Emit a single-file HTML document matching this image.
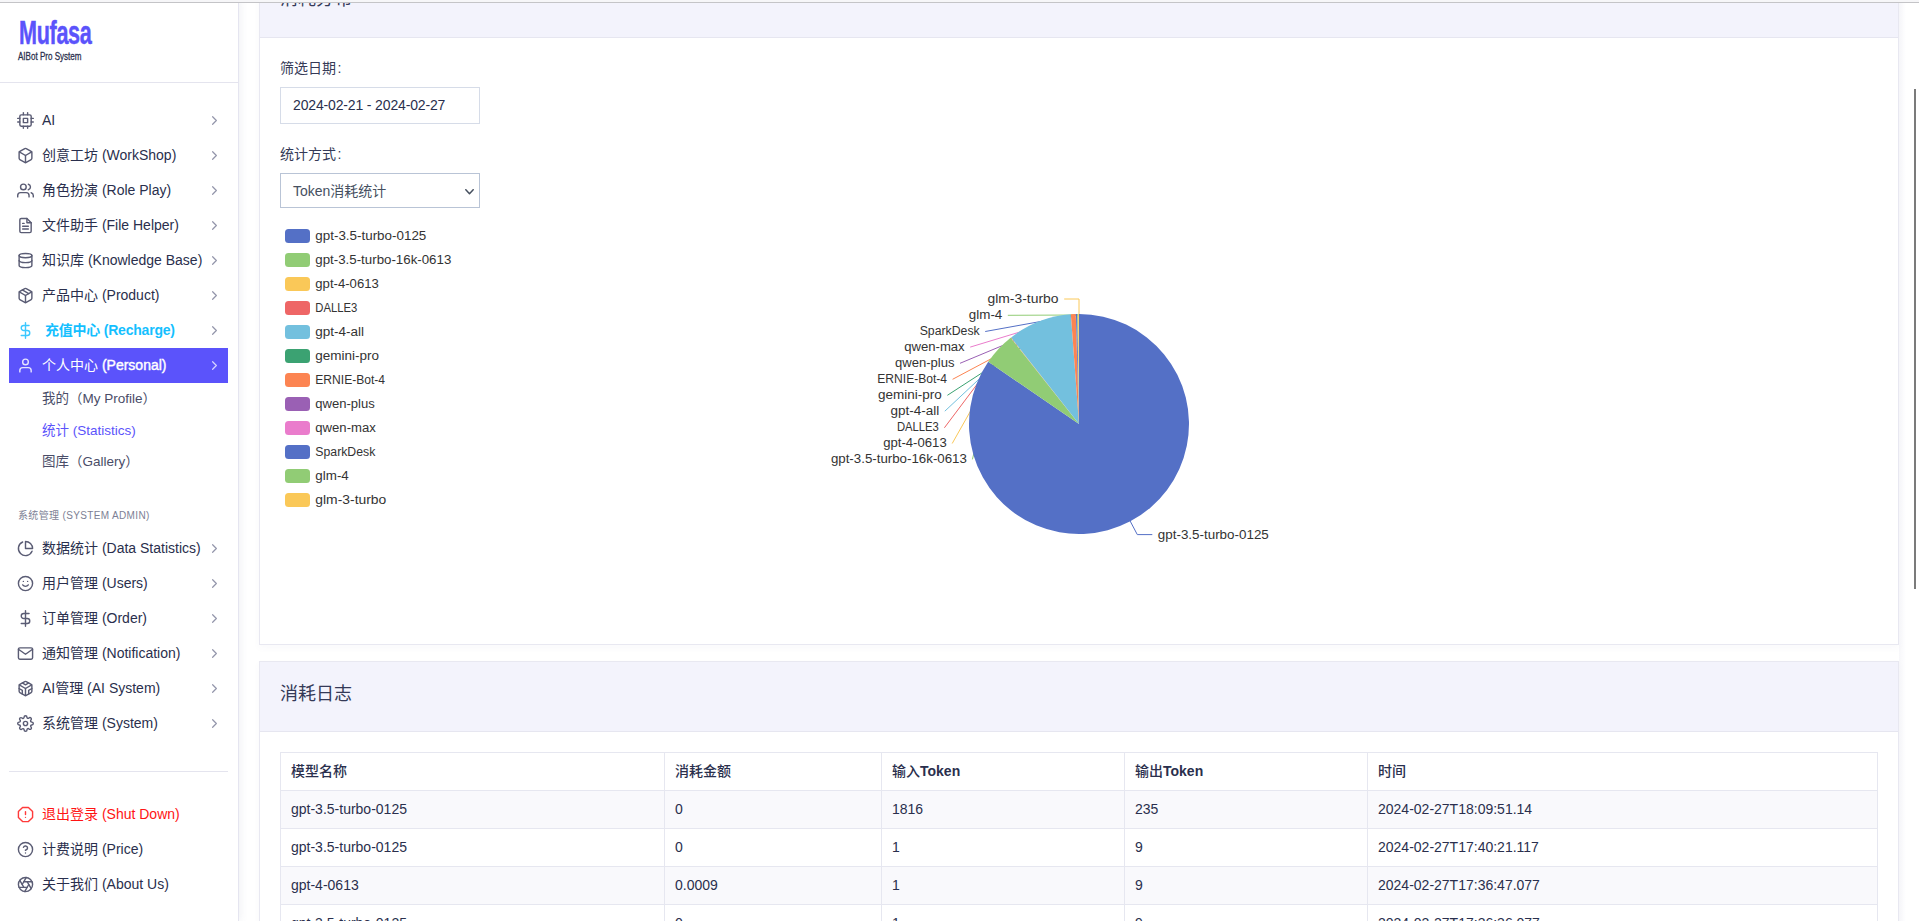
<!DOCTYPE html>
<html lang="zh-CN">
<head>
<meta charset="utf-8">
<title>Mufasa - Statistics</title>
<style>
*{box-sizing:border-box}
html,body{margin:0;padding:0}
body{width:1919px;height:921px;overflow:hidden;position:relative;background:#fff;
  font-family:"Liberation Sans","Noto Sans CJK SC",sans-serif;color:#2a2f4d;font-size:15px}
.topline{position:absolute;left:0;top:0;width:1919px;height:3px;background:#f6f6f8;border-bottom:1px solid #c4c4c7;z-index:50}
/* ---------- sidebar ---------- */
.sidebar{position:absolute;left:0;top:0;width:239px;height:921px;background:#fff;border-right:1px solid #e5e5f0;box-shadow:1px 0 8px rgba(90,95,140,.1);z-index:10}
.brand{position:absolute;left:0;top:0;width:238px;height:83px;border-bottom:1px solid #e4e4ee}
.brand .t1{position:absolute;left:19px;top:13px;font-size:33px;line-height:40px;font-weight:bold;color:#5b53fb;
  transform:scaleX(.655);transform-origin:0 50%;white-space:nowrap;letter-spacing:-.5px;-webkit-text-stroke:.45px #5b53fb}
.brand .t2{position:absolute;left:18px;top:49px;font-size:11.5px;line-height:14px;color:#2a2f4d;
  transform:scaleX(.70);transform-origin:0 50%;white-space:nowrap;-webkit-text-stroke:.3px #2a2f4d}
.menu{position:absolute;left:9px;width:219px;margin:0;padding:0;list-style:none}
.mi{position:relative;height:35px;line-height:35px;white-space:nowrap;font-size:14px;color:#2a2f4d}
.mi svg.ic{position:absolute;left:8px;top:9px;width:17px;height:17px;stroke:#5a5c74;fill:none;stroke-width:2;stroke-linecap:round;stroke-linejoin:round}
.mi .tx{position:absolute;left:33px;top:0}
.mi svg.ch{position:absolute;left:198px;top:9.75px;width:15px;height:15px;stroke:#9395aa;fill:none;stroke-width:1.9;stroke-linecap:round;stroke-linejoin:round}
.mi.active{background:#5b53fb;color:#fff}
.mi.active .md{-webkit-text-stroke:.4px #fff}
.mi.active svg.ic{stroke:#e4e2ff}
.mi.active svg.ch{stroke:#d6d4ff}
.mi.recharge{color:#14bfff;font-weight:bold}
.mi.recharge svg.ic{stroke:#3cc8ff}
.mi.recharge .tx{left:36px;letter-spacing:-.22px}
.mi.red{color:#ff1414}
.mi.red svg.ic{stroke:#ff3a3a}
.sub{position:absolute;left:42px;font-size:13.5px;line-height:20px;white-space:nowrap;color:#4a4d68}
.sub.on{color:#5b53fb}
.seclabel{position:absolute;left:18px;top:509px;font-size:10px;line-height:14px;color:#7d7f95;letter-spacing:.35px;white-space:nowrap}
.sdiv{position:absolute;left:9px;top:771px;width:219px;height:1px;background:#e4e4ee}
/* ---------- main ---------- */
.card{position:absolute;left:259px;width:1640px;background:#fff;border:1px solid #e8e8f1;box-shadow:0 3px 7px rgba(90,95,140,.035)}
.chead{position:absolute;left:0;top:0;width:1638px;background:#f3f3fc;border-bottom:1px solid #e6e6f0}
.chead h3{position:absolute;left:20px;margin:0;font-weight:normal;font-size:18px;line-height:24px;color:#343957;white-space:nowrap}
.lab{position:absolute;left:280px;font-size:14px;line-height:20px;color:#353a57;white-space:nowrap}
.lab i{font-style:normal;margin-left:1.5px}
.inp{position:absolute;left:280px;top:87px;width:200px;height:37px;border:1px solid #d6dce8;background:#fff;
  font-size:14px;line-height:35px;padding-left:12px;color:#2a2f4d;white-space:nowrap;letter-spacing:-.15px}
.sel{position:absolute;left:280px;top:173px;width:200px;height:35px;border:1px solid #b9c4d6;background:#fff;
  font-size:14px;line-height:34px;padding-left:12px;color:#46505f;white-space:nowrap}
.sel svg{position:absolute;left:183px;top:11.5px;width:11px;height:11px;stroke:#46505f;fill:none;stroke-width:1.6;stroke-linecap:round;stroke-linejoin:round}
.tbl{position:absolute;left:280px;top:752px;width:1597px;border-collapse:collapse;table-layout:fixed;font-size:14px;color:#2a2f4d;z-index:6}
.tbl th,.tbl td{height:38px;padding:0 0 2px 10px;border:1px solid #e6e7f0;text-align:left;font-weight:normal;white-space:nowrap;line-height:20px;vertical-align:middle}
.tbl th{font-weight:500;background:#fff}
.tbl th b{font-weight:bold}
.tbl tr.odd td{background:#f9f9fc}
.tbl tr.even td{background:#fff}
.rshade{position:absolute;left:1899px;top:3px;width:7px;height:918px;background:linear-gradient(90deg,rgba(240,240,246,.55),rgba(255,255,255,0));z-index:1}
.scroll{position:absolute;left:1914px;top:89px;width:2px;height:500px;background:#7b7b7b;z-index:60}
</style>
</head>
<body>
<div class="topline"></div>

<!-- SIDEBAR -->
<div class="sidebar" id="sidebar">
  <div class="brand">
    <div class="t1">Mufasa</div>
    <div class="t2">AIBot Pro System</div>
  </div>
<!--SB-->
  <ul class="menu" style="top:103px">
    <li class="mi"><svg class="ic" viewBox="0 0 24 24"><rect x="4" y="4" width="16" height="16" rx="2" ry="2"/><rect x="9" y="9" width="6" height="6"/><line x1="9" y1="1" x2="9" y2="4"/><line x1="15" y1="1" x2="15" y2="4"/><line x1="9" y1="20" x2="9" y2="23"/><line x1="15" y1="20" x2="15" y2="23"/><line x1="20" y1="9" x2="23" y2="9"/><line x1="20" y1="14" x2="23" y2="14"/><line x1="1" y1="9" x2="4" y2="9"/><line x1="1" y1="14" x2="4" y2="14"/></svg><span class="tx">AI</span><svg class="ch" viewBox="0 0 24 24"><polyline points="9 18 15 12 9 6"/></svg></li>
    <li class="mi"><svg class="ic" viewBox="0 0 24 24"><path d="M21 16V8a2 2 0 0 0-1-1.73l-7-4a2 2 0 0 0-2 0l-7 4A2 2 0 0 0 3 8v8a2 2 0 0 0 1 1.73l7 4a2 2 0 0 0 2 0l7-4A2 2 0 0 0 21 16z"/><polyline points="3.27 6.96 12 12.01 20.73 6.96"/><line x1="12" y1="22.08" x2="12" y2="12"/></svg><span class="tx">创意工坊 (WorkShop)</span><svg class="ch" viewBox="0 0 24 24"><polyline points="9 18 15 12 9 6"/></svg></li>
    <li class="mi"><svg class="ic" viewBox="0 0 24 24"><path d="M17 21v-2a4 4 0 0 0-4-4H5a4 4 0 0 0-4 4v2"/><circle cx="9" cy="7" r="4"/><path d="M23 21v-2a4 4 0 0 0-3-3.87"/><path d="M16 3.13a4 4 0 0 1 0 7.75"/></svg><span class="tx">角色扮演 (Role Play)</span><svg class="ch" viewBox="0 0 24 24"><polyline points="9 18 15 12 9 6"/></svg></li>
    <li class="mi"><svg class="ic" viewBox="0 0 24 24"><path d="M14 2H6a2 2 0 0 0-2 2v16a2 2 0 0 0 2 2h12a2 2 0 0 0 2-2V8z"/><polyline points="14 2 14 8 20 8"/><line x1="16" y1="13" x2="8" y2="13"/><line x1="16" y1="17" x2="8" y2="17"/><polyline points="10 9 9 9 8 9"/></svg><span class="tx">文件助手 (File Helper)</span><svg class="ch" viewBox="0 0 24 24"><polyline points="9 18 15 12 9 6"/></svg></li>
    <li class="mi"><svg class="ic" viewBox="0 0 24 24"><ellipse cx="12" cy="5" rx="9" ry="3"/><path d="M21 12c0 1.66-4 3-9 3s-9-1.34-9-3"/><path d="M3 5v14c0 1.66 4 3 9 3s9-1.34 9-3V5"/></svg><span class="tx">知识库 (Knowledge Base)</span><svg class="ch" viewBox="0 0 24 24"><polyline points="9 18 15 12 9 6"/></svg></li>
    <li class="mi"><svg class="ic" viewBox="0 0 24 24"><line x1="16.5" y1="9.4" x2="7.5" y2="4.21"/><path d="M21 16V8a2 2 0 0 0-1-1.73l-7-4a2 2 0 0 0-2 0l-7 4A2 2 0 0 0 3 8v8a2 2 0 0 0 1 1.73l7 4a2 2 0 0 0 2 0l7-4A2 2 0 0 0 21 16z"/><polyline points="3.27 6.96 12 12.01 20.73 6.96"/><line x1="12" y1="22.08" x2="12" y2="12"/></svg><span class="tx">产品中心 (Product)</span><svg class="ch" viewBox="0 0 24 24"><polyline points="9 18 15 12 9 6"/></svg></li>
    <li class="mi recharge"><svg class="ic" viewBox="0 0 24 24"><line x1="12" y1="1" x2="12" y2="23"/><path d="M17 5H9.5a3.5 3.5 0 0 0 0 7h5a3.5 3.5 0 0 1 0 7H6"/></svg><span class="tx">充值中心 (Recharge)</span><svg class="ch" viewBox="0 0 24 24"><polyline points="9 18 15 12 9 6"/></svg></li>
    <li class="mi active"><svg class="ic" viewBox="0 0 24 24"><path d="M20 21v-2a4 4 0 0 0-4-4H8a4 4 0 0 0-4 4v2"/><circle cx="12" cy="7" r="4"/></svg><span class="tx">个人中心 <span class="md">(Personal)</span></span><svg class="ch" viewBox="0 0 24 24"><polyline points="9 18 15 12 9 6"/></svg></li>
  </ul>
  <div class="sub" style="top:389px">我的（My Profile）</div>
  <div class="sub on" style="top:421px">统计 (Statistics)</div>
  <div class="sub" style="top:452px">图库（Gallery）</div>
  <div class="seclabel">系统管理 (SYSTEM ADMIN)</div>
  <ul class="menu" style="top:531px">
    <li class="mi"><svg class="ic" viewBox="0 0 24 24"><path d="M21.21 15.89A10 10 0 1 1 8 2.83"/><path d="M22 12A10 10 0 0 0 12 2v10z"/></svg><span class="tx">数据统计 (Data Statistics)</span><svg class="ch" viewBox="0 0 24 24"><polyline points="9 18 15 12 9 6"/></svg></li>
    <li class="mi"><svg class="ic" viewBox="0 0 24 24"><circle cx="12" cy="12" r="10"/><path d="M8 14s1.5 2 4 2 4-2 4-2"/><line x1="9" y1="9" x2="9.01" y2="9"/><line x1="15" y1="9" x2="15.01" y2="9"/></svg><span class="tx">用户管理 (Users)</span><svg class="ch" viewBox="0 0 24 24"><polyline points="9 18 15 12 9 6"/></svg></li>
    <li class="mi"><svg class="ic" viewBox="0 0 24 24"><line x1="12" y1="1" x2="12" y2="23"/><path d="M17 5H9.5a3.5 3.5 0 0 0 0 7h5a3.5 3.5 0 0 1 0 7H6"/></svg><span class="tx">订单管理 (Order)</span><svg class="ch" viewBox="0 0 24 24"><polyline points="9 18 15 12 9 6"/></svg></li>
    <li class="mi"><svg class="ic" viewBox="0 0 24 24"><path d="M4 4h16c1.1 0 2 .9 2 2v12c0 1.1-.9 2-2 2H4c-1.1 0-2-.9-2-2V6c0-1.1.9-2 2-2z"/><polyline points="22,6 12,13 2,6"/></svg><span class="tx">通知管理 (Notification)</span><svg class="ch" viewBox="0 0 24 24"><polyline points="9 18 15 12 9 6"/></svg></li>
    <li class="mi"><svg class="ic" viewBox="0 0 24 24"><path d="M21 16V8a2 2 0 0 0-1-1.73l-7-4a2 2 0 0 0-2 0l-7 4A2 2 0 0 0 3 8v8a2 2 0 0 0 1 1.73l7 4a2 2 0 0 0 2 0l7-4A2 2 0 0 0 21 16z"/><polyline points="7.5 4.21 12 6.81 16.5 4.21"/><polyline points="7.5 19.79 7.5 14.6 3 12"/><polyline points="21 12 16.5 14.6 16.5 19.79"/><polyline points="3.27 6.96 12 12.01 20.73 6.96"/><line x1="12" y1="22.08" x2="12" y2="12"/></svg><span class="tx">AI管理 (AI System)</span><svg class="ch" viewBox="0 0 24 24"><polyline points="9 18 15 12 9 6"/></svg></li>
    <li class="mi"><svg class="ic" viewBox="0 0 24 24"><circle cx="12" cy="12" r="3"/><path d="M19.4 15a1.65 1.65 0 0 0 .33 1.82l.06.06a2 2 0 0 1 0 2.83 2 2 0 0 1-2.83 0l-.06-.06a1.65 1.65 0 0 0-1.82-.33 1.65 1.65 0 0 0-1 1.51V21a2 2 0 0 1-2 2 2 2 0 0 1-2-2v-.09A1.65 1.65 0 0 0 9 19.4a1.65 1.65 0 0 0-1.82.33l-.06.06a2 2 0 0 1-2.83 0 2 2 0 0 1 0-2.83l.06-.06a1.65 1.65 0 0 0 .33-1.82 1.65 1.65 0 0 0-1.51-1H3a2 2 0 0 1-2-2 2 2 0 0 1 2-2h.09A1.65 1.65 0 0 0 4.6 9a1.65 1.65 0 0 0-.33-1.82l-.06-.06a2 2 0 0 1 0-2.83 2 2 0 0 1 2.83 0l.06.06a1.65 1.65 0 0 0 1.82.33H9a1.65 1.65 0 0 0 1-1.51V3a2 2 0 0 1 2-2 2 2 0 0 1 2 2v.09a1.65 1.65 0 0 0 1 1.51 1.65 1.65 0 0 0 1.82-.33l.06-.06a2 2 0 0 1 2.83 0 2 2 0 0 1 0 2.83l-.06.06a1.65 1.65 0 0 0-.33 1.82V9a1.65 1.65 0 0 0 1.51 1H21a2 2 0 0 1 2 2 2 2 0 0 1-2 2h-.09a1.65 1.65 0 0 0-1.51 1z"/></svg><span class="tx">系统管理 (System)</span><svg class="ch" viewBox="0 0 24 24"><polyline points="9 18 15 12 9 6"/></svg></li>
  </ul>
  <div class="sdiv"></div>
  <ul class="menu" style="top:797px">
    <li class="mi red"><svg class="ic" viewBox="0 0 24 24"><polygon points="7.86 2 16.14 2 22 7.86 22 16.14 16.14 22 7.86 22 2 16.14 2 7.86 7.86 2"/><line x1="12" y1="8" x2="12" y2="12"/><line x1="12" y1="16" x2="12.01" y2="16"/></svg><span class="tx">退出登录 (Shut Down)</span></li>
    <li class="mi"><svg class="ic" viewBox="0 0 24 24"><circle cx="12" cy="12" r="10"/><path d="M9.09 9a3 3 0 0 1 5.83 1c0 2-3 3-3 3"/><line x1="12" y1="17" x2="12.01" y2="17"/></svg><span class="tx">计费说明 (Price)</span></li>
    <li class="mi"><svg class="ic" viewBox="0 0 24 24"><circle cx="12" cy="12" r="10"/><line x1="14.31" y1="8" x2="20.05" y2="17.94"/><line x1="9.69" y1="8" x2="21.17" y2="8"/><line x1="7.38" y1="12" x2="13.12" y2="2.06"/><line x1="9.69" y1="16" x2="3.95" y2="6.06"/><line x1="14.31" y1="16" x2="2.83" y2="16"/><line x1="16.62" y1="12" x2="10.88" y2="21.94"/></svg><span class="tx">关于我们 (About Us)</span></li>
  </ul>
<!--/SB-->
</div>

<!-- CARD 1 : chart -->
<div class="card" id="card1" style="top:-34px;height:679px">
  <div class="chead" style="height:71px"><h3 style="top:20px">消耗分布</h3></div>
</div>
<div class="lab" style="top:58px">筛选日期<i>:</i></div>
<div class="inp">2024-02-21 - 2024-02-27</div>
<div class="lab" style="top:144px">统计方式<i>:</i></div>
<div class="sel">Token消耗统计<svg viewBox="0 0 12 12"><polyline points="2,4 6,8.5 10,4"/></svg></div>

<!--CH-->
<svg id="chart" width="1640" height="600" viewBox="259 40 1640 600" style="position:absolute;left:259px;top:40px;z-index:5" font-family="'Liberation Sans',sans-serif" font-size="12">
<g id="legend" fill="#333">
<rect x="285" y="229" width="25" height="14" rx="3.5" fill="#5470c6"/><text x="315.3" y="240.3" textLength="111" lengthAdjust="spacingAndGlyphs">gpt-3.5-turbo-0125</text>
<rect x="285" y="253" width="25" height="14" rx="3.5" fill="#91cc75"/><text x="315.3" y="264.3" textLength="136" lengthAdjust="spacingAndGlyphs">gpt-3.5-turbo-16k-0613</text>
<rect x="285" y="277" width="25" height="14" rx="3.5" fill="#fac858"/><text x="315.3" y="288.3" textLength="63.5" lengthAdjust="spacingAndGlyphs">gpt-4-0613</text>
<rect x="285" y="301" width="25" height="14" rx="3.5" fill="#ee6666"/><text x="315.3" y="312.3" textLength="42" lengthAdjust="spacingAndGlyphs">DALLE3</text>
<rect x="285" y="325" width="25" height="14" rx="3.5" fill="#73c0de"/><text x="315.3" y="336.3" textLength="48.8" lengthAdjust="spacingAndGlyphs">gpt-4-all</text>
<rect x="285" y="349" width="25" height="14" rx="3.5" fill="#3ba272"/><text x="315.3" y="360.3" textLength="63.8" lengthAdjust="spacingAndGlyphs">gemini-pro</text>
<rect x="285" y="373" width="25" height="14" rx="3.5" fill="#fc8452"/><text x="315.3" y="384.3" textLength="69.8" lengthAdjust="spacingAndGlyphs">ERNIE-Bot-4</text>
<rect x="285" y="397" width="25" height="14" rx="3.5" fill="#9a60b4"/><text x="315.3" y="408.3" textLength="59.5" lengthAdjust="spacingAndGlyphs">qwen-plus</text>
<rect x="285" y="421" width="25" height="14" rx="3.5" fill="#ea7ccc"/><text x="315.3" y="432.3" textLength="60.5" lengthAdjust="spacingAndGlyphs">qwen-max</text>
<rect x="285" y="445" width="25" height="14" rx="3.5" fill="#5470c6"/><text x="315.3" y="456.3" textLength="60" lengthAdjust="spacingAndGlyphs">SparkDesk</text>
<rect x="285" y="469" width="25" height="14" rx="3.5" fill="#91cc75"/><text x="315.3" y="480.3" textLength="33.5" lengthAdjust="spacingAndGlyphs">glm-4</text>
<rect x="285" y="493" width="25" height="14" rx="3.5" fill="#fac858"/><text x="315.3" y="504.3" textLength="71" lengthAdjust="spacingAndGlyphs">glm-3-turbo</text>
</g>
<g id="lines" fill="none" stroke-width="1">
<polyline points="972.4,459.4 999.3,349.7" stroke="#91cc75"/>
<polyline points="952.2,443.5 1011.4,338.5" stroke="#fac858"/>
<polyline points="944.4,427.8 1011.6,338.3" stroke="#ee6666"/>
<polyline points="944.8,411.2 1039.6,322.4" stroke="#73c0de"/>
<polyline points="947.4,395.3 1070.9,315.3" stroke="#3ba272"/>
<polyline points="952.6,379.3 1073.3,315.1" stroke="#fc8452"/>
<polyline points="960.0,363.3 1075.8,315.0" stroke="#9a60b4"/>
<polyline points="970.2,347.1 1075.9,315.0" stroke="#ea7ccc"/>
<polyline points="985.2,331.5 1076.6,315.0" stroke="#5470c6"/>
<polyline points="1007.8,315.3 1077.7,315.0" stroke="#91cc75"/>
<polyline points="1064.2,299 1079,299 1079,316" stroke="#fac858"/>
<polyline points="1129.8,520.4 1137.3,534.6 1152.3,534.6" stroke="#5470c6"/>
</g>
<g id="pie">
<path d="M1079,424 L1079.00,314.00 A110,110 0 1 1 988.24,361.85 Z" fill="#5470c6"/>
<path d="M1079,424 L988.24,361.85 A110,110 0 0 1 1010.67,337.79 Z" fill="#91cc75"/>
<path d="M1079,424 L1010.67,337.79 A110,110 0 0 1 1010.90,337.62 Z" fill="#fac858"/>
<path d="M1079,424 L1010.90,337.62 A110,110 0 0 1 1011.13,337.44 Z" fill="#ee6666"/>
<path d="M1079,424 L1011.13,337.44 A110,110 0 0 1 1070.75,314.31 Z" fill="#73c0de"/>
<path d="M1079,424 L1070.75,314.31 A110,110 0 0 1 1070.85,314.30 Z" fill="#3ba272"/>
<path d="M1079,424 L1070.85,314.30 A110,110 0 0 1 1075.74,314.05 Z" fill="#fc8452"/>
<path d="M1079,424 L1075.74,314.05 A110,110 0 0 1 1075.83,314.05 Z" fill="#9a60b4"/>
<path d="M1079,424 L1075.83,314.05 A110,110 0 0 1 1075.93,314.04 Z" fill="#ea7ccc"/>
<path d="M1079,424 L1075.93,314.04 A110,110 0 0 1 1077.27,314.01 Z" fill="#5470c6"/>
<path d="M1079,424 L1077.27,314.01 A110,110 0 0 1 1078.14,314.00 Z" fill="#91cc75"/>
<path d="M1079,424 L1078.14,314.00 A110,110 0 0 1 1079.00,314.00 Z" fill="#fac858"/>
</g>
<g id="labels" fill="#333" text-anchor="end">
<text x="966.9" y="463.4" textLength="136" lengthAdjust="spacingAndGlyphs">gpt-3.5-turbo-16k-0613</text>
<text x="946.7" y="447.4" textLength="63.5" lengthAdjust="spacingAndGlyphs">gpt-4-0613</text>
<text x="938.9" y="431.4" textLength="42" lengthAdjust="spacingAndGlyphs">DALLE3</text>
<text x="939.3" y="415.4" textLength="48.8" lengthAdjust="spacingAndGlyphs">gpt-4-all</text>
<text x="941.9" y="399.4" textLength="63.8" lengthAdjust="spacingAndGlyphs">gemini-pro</text>
<text x="947.1" y="383.4" textLength="69.8" lengthAdjust="spacingAndGlyphs">ERNIE-Bot-4</text>
<text x="954.5" y="367.4" textLength="59.5" lengthAdjust="spacingAndGlyphs">qwen-plus</text>
<text x="964.7" y="351.4" textLength="60.5" lengthAdjust="spacingAndGlyphs">qwen-max</text>
<text x="979.7" y="335.4" textLength="60" lengthAdjust="spacingAndGlyphs">SparkDesk</text>
<text x="1002.3" y="319.4" textLength="33.5" lengthAdjust="spacingAndGlyphs">glm-4</text>
<text x="1058.5" y="303.4" textLength="71" lengthAdjust="spacingAndGlyphs">glm-3-turbo</text>
<text x="1157.8" y="538.6" text-anchor="start" textLength="111" lengthAdjust="spacingAndGlyphs">gpt-3.5-turbo-0125</text>
</g>
</svg>
<!--/CH-->

<!-- CARD 2 : log -->
<div class="card" id="card2" style="top:661px;height:300px">
  <div class="chead" style="height:70px"><h3 style="top:19.5px">消耗日志</h3></div>
</div>

<!--TB-->
<table class="tbl"><colgroup><col style="width:384px"><col style="width:217px"><col style="width:243px"><col style="width:243px"><col style="width:510px"></colgroup>
<thead><tr><th>模型名称</th><th>消耗金额</th><th>输入<b>Token</b></th><th>输出<b>Token</b></th><th>时间</th></tr></thead><tbody>
<tr class="odd"><td>gpt-3.5-turbo-0125</td><td>0</td><td>1816</td><td>235</td><td>2024-02-27T18:09:51.14</td></tr>
<tr class="even"><td>gpt-3.5-turbo-0125</td><td>0</td><td>1</td><td>9</td><td>2024-02-27T17:40:21.117</td></tr>
<tr class="odd"><td>gpt-4-0613</td><td>0.0009</td><td>1</td><td>9</td><td>2024-02-27T17:36:47.077</td></tr>
<tr class="even"><td>gpt-3.5-turbo-0125</td><td>0</td><td>1</td><td>9</td><td>2024-02-27T17:36:36.077</td></tr>
</tbody></table>
<!--/TB-->
<div class="rshade"></div>
<div class="scroll"></div>
</body>
</html>
